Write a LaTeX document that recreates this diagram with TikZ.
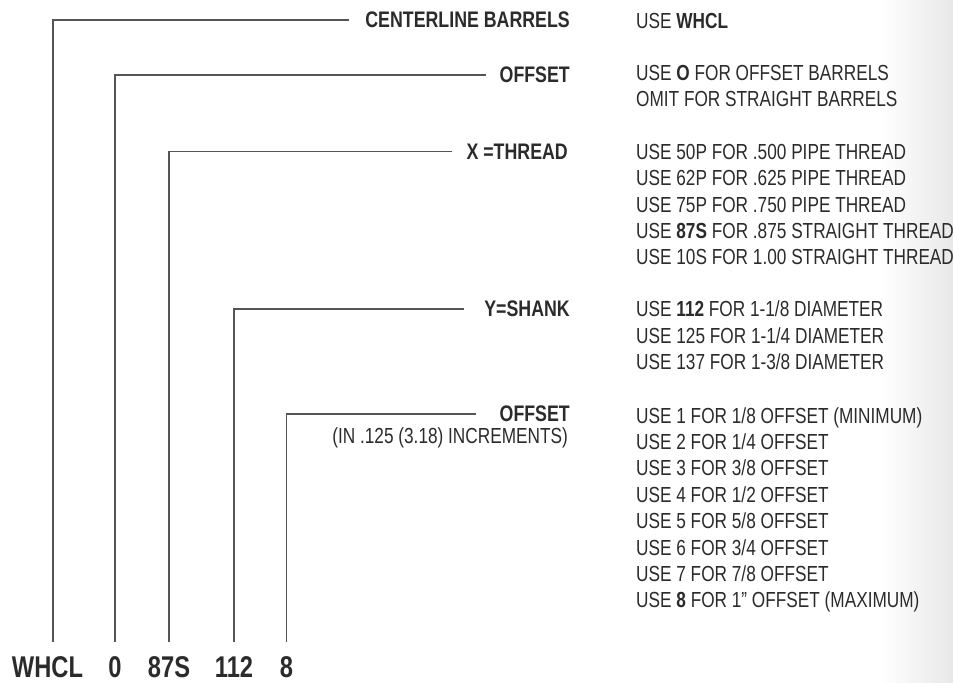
\documentclass[tikz,border=0pt]{standalone}
\usepackage{fontspec}
\setmainfont{Liberation Sans}[FakeStretch=0.79]
\usepackage{tikz}

\definecolor{ink}{HTML}{2B2B2B}
\definecolor{leadgray}{HTML}{555555}

\tikzset{
  lbl/.style={anchor=east,inner sep=0pt,text=ink,
    font=\fontsize{22.5bp}{26bp}\selectfont\bfseries},
  desc/.style={anchor=base west,align=left,inner sep=0pt,text=ink,
    font=\fontsize{21.8bp}{26.4bp}\selectfont},
  code/.style={inner xsep=0pt,inner ysep=14.5bp,text=ink,
    font=\fontsize{30bp}{30bp}\selectfont\bfseries},
  lead/.style={line width=1.3bp,leadgray}
}

\begin{document}
\begin{tikzpicture}[x=1bp,y=-1bp]
    \useasboundingbox (0,0) rectangle (953,683);
    \shade[left color=white,right color=black!9]
        (880,0) rectangle (953,683);
     \node[lbl](cb) at (570,20) {CENTERLINE BARRELS};
     \node[lbl](of) at (570,75) {OFFSET};
     \node[lbl](xt) at (568,151.5) {X =THREAD};
     \node[lbl](ys) at (570,309) {Y=SHANK};
     \node[lbl](os) at (570,414) {OFFSET};
     \node[lbl,anchor=base east,font=\fontsize{21.8bp}{26bp}\selectfont](inc)
        at (568,443) {(IN .125 (3.18) INCREMENTS)};
     \node[desc](d1) at (636,28.3) {USE \textbf{WHCL}};
     \node[desc](d2) at (636,106.9)
        {USE \textbf{O} FOR OFFSET BARRELS\\
         OMIT FOR STRAIGHT BARRELS};
     \node[desc](d3) at (636,264.9)
        {USE 50P FOR .500 PIPE THREAD\\
         USE 62P FOR .625 PIPE THREAD\\
         USE 75P FOR .750 PIPE THREAD\\
         USE \textbf{87S} FOR .875 STRAIGHT THREAD\\
         USE 10S FOR 1.00 STRAIGHT THREAD};
     \node[desc](d4) at (636,369.5)
        {USE \textbf{112} FOR 1-1/8 DIAMETER\\
         USE 125 FOR 1-1/4 DIAMETER\\
         USE 137 FOR 1-3/8 DIAMETER};
     \node[desc](d5) at (636,607.8)
        {USE 1 FOR 1/8 OFFSET (MINIMUM)\\
         USE 2 FOR 1/4 OFFSET\\
         USE 3 FOR 3/8 OFFSET\\
         USE 4 FOR 1/2 OFFSET\\
         USE 5 FOR 5/8 OFFSET\\
         USE 6 FOR 3/4 OFFSET\\
         USE 7 FOR 7/8 OFFSET\\
         USE \textbf{8} FOR 1” OFFSET (MAXIMUM)};
     \node[code](w) at (47.5,667.5) {WHCL};
     \node[code](o) at (115,667.5) {0};
     \node[code](t) at (169,667.5) {87S};
     \node[code](s) at (234,667.5) {112};
     \node[code](e) at (286.5,667.5) {8};
    \draw[lead,shorten >=16bp]
        ([xshift=5.5bp]w.north) |- (cb.west);
    \draw[lead,shorten >=13bp]
        (o.north) |- (of.west);
    \draw[lead,shorten >=14bp]
        (t.north) |- (xt.west);
    \draw[lead,shorten >=20bp]
        (s.north) |- (ys.west);
    \draw[lead,shorten >=23bp]
        (e.north) |- (os.west);
 \end{tikzpicture}
\end{document}
